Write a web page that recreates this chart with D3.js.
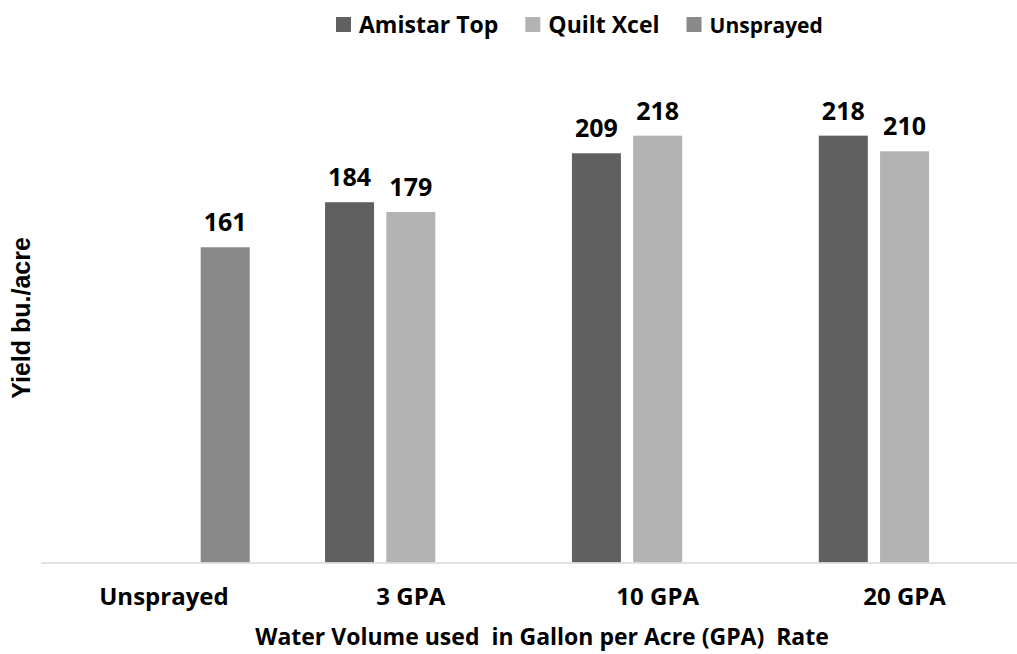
<!DOCTYPE html>
<html>
<head>
<meta charset="utf-8">
<script src="https://cdn.jsdelivr.net/npm/d3@7"></script>
<style>
  body { margin: 0; background: #fff; }
  text { font-family: "Open Sans", sans-serif; font-weight: bold; fill: #000; }
</style>
</head>
<body>
<div id="chart"></div>
<script>
var categories = ["Unsprayed", "3 GPA", "10 GPA", "20 GPA"];
var seriesNames = ["Amistar Top", "Quilt Xcel", "Unsprayed"];
var amistarTop = [null, 184, 209, 218];
var quiltXcel = [null, 179, 218, 210];
var unsprayed = [161, null, null, null];
var colors = ["#606060", "#b3b3b3", "#898989"];

var width = 1017, height = 654;
var margin = {top: 73, right: -11, bottom: 91.5, left: 40.5};
var innerW = width - margin.left - margin.right;
var innerH = height - margin.top - margin.bottom;

var svg = d3.select("#chart").append("svg")
    .attr("width", width)
    .attr("height", height);

var g = svg.append("g")
    .attr("transform", "translate(" + margin.left + "," + margin.top + ")");

// Scales
var x0 = d3.scaleBand()
    .domain(categories)
    .range([0, innerW]);

var x1 = d3.scaleBand()
    .domain(seriesNames)
    .range([0, x0.bandwidth()])
    .paddingInner(0.2)
    .paddingOuter(0.615);

var y = d3.scaleLinear()
    .domain([0, 250])
    .range([innerH, 0]);

var color = d3.scaleOrdinal().domain(seriesNames).range(colors);

// rows for bars
var allSeries = [amistarTop, quiltXcel, unsprayed];
var rows = [];
categories.forEach(function (c, i) {
    seriesNames.forEach(function (s, j) {
        if (allSeries[j][i] != null) rows.push({cat: c, series: s, value: allSeries[j][i]});
    });
});

// Bars
g.selectAll("rect.bar")
    .data(rows)
    .enter().append("rect")
    .attr("class", "bar")
    .attr("x", function (d) { return x0(d.cat) + x1(d.series); })
    .attr("y", function (d) { return y(d.value); })
    .attr("width", x1.bandwidth())
    .attr("height", function (d) { return innerH - y(d.value); })
    .attr("fill", function (d) { return color(d.series); });

// Value labels
g.selectAll("text.value")
    .data(rows)
    .enter().append("text")
    .attr("class", "value")
    .attr("x", function (d) { return x0(d.cat) + x1(d.series) + x1.bandwidth() / 2; })
    .attr("y", function (d) { return y(d.value) - 16; })
    .attr("text-anchor", "middle")
    .style("font-size", "25px")
    .text(function (d) { return d.value; });

// x-axis
var xAxis = g.append("g")
    .attr("class", "x_axis")
    .attr("transform", "translate(0," + innerH + ")")
    .call(d3.axisBottom(x0).tickSize(0).tickPadding(0));
xAxis.select(".domain").attr("stroke", "#d9d9d9").attr("stroke-width", 1.5);
xAxis.selectAll(".tick text")
    .attr("y", 42)
    .attr("dy", null)
    .style("font-size", "24px")
    .style("font-family", "'Open Sans', sans-serif");

// x-axis title
svg.append("text")
    .attr("x", 542)
    .attr("y", 645)
    .attr("text-anchor", "middle")
    .attr("xml:space", "preserve")
    .style("white-space", "pre")
    .style("font-size", "23px")
    .text("Water Volume used  in Gallon per Acre (GPA)  Rate");

// y-axis title
svg.append("text")
    .attr("transform", "translate(30,318) rotate(-90)")
    .attr("text-anchor", "middle")
    .style("font-family", "'Liberation Sans', Arial, sans-serif")
    .style("font-size", "25px")
    .text("Yield bu./acre");

// Legend
var legendSizes = [23, 23, 21];
var legend = svg.append("g").attr("class", "legend");
var lx = 336;
seriesNames.forEach(function (s, i) {
    legend.append("rect")
        .attr("x", lx)
        .attr("y", 17)
        .attr("width", 15)
        .attr("height", 15)
        .attr("fill", colors[i]);
    var t = legend.append("text")
        .attr("x", lx + 23)
        .attr("y", 33)
        .style("font-size", legendSizes[i] + "px")
        .text(s);
    lx += 23 + t.node().getComputedTextLength() + 27;
});
</script>
</body>
</html>
